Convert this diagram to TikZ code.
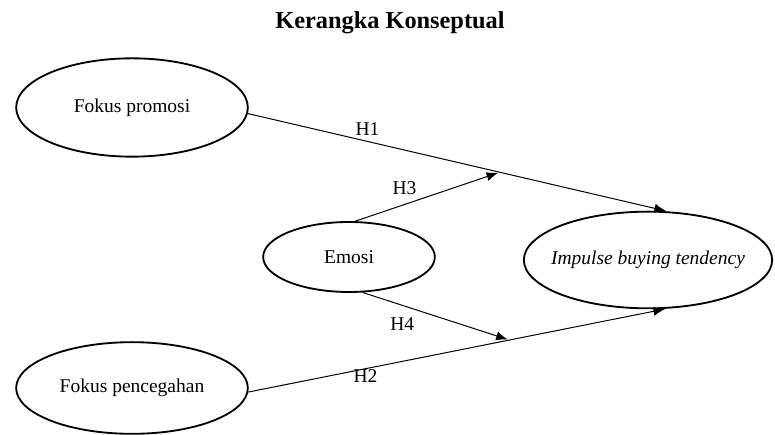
\documentclass[tikz,border=0pt]{standalone}
\usepackage{fontspec}
\setmainfont{Liberation Serif}
\usetikzlibrary{shapes.geometric,arrows.meta,positioning}

\tikzset{
  konsep/.style={ellipse, draw, line width=1.1pt, inner sep=0pt, font=\fontsize{11.7}{14}\selectfont},
  jalur/.style={-{Latex[length=7pt,width=5.5pt]}, line width=0.6pt},
  hlabel/.style={font=\fontsize{11.7}{14}\selectfont}
}

\begin{document}
\begin{tikzpicture}[shorten >=1pt,on grid,auto]
    \useasboundingbox (-79.2pt,64.5pt) rectangle (385.8pt,-196.5pt);
    \node[konsep, minimum width=139pt, minimum height=59pt] (promosi) {Fokus promosi};
    \node[konsep, minimum width=139pt, minimum height=55pt, below=168.3pt of promosi] (pencegahan) {Fokus pencegahan};
    \node[konsep, minimum width=103pt, minimum height=42pt, below right=89.7pt and 130.2pt of promosi] (emosi) {Emosi};
    \node[konsep, inner xsep=-6pt, minimum width=149pt, minimum height=58pt, below right=1.8pt and 179.4pt of emosi] (impulse) {\itshape Impulse buying tendency};
    \node[font=\bfseries\fontsize{14.6}{17}\selectfont, above right=51pt and 154.8pt of promosi] (judul) {Kerangka Konseptual};
    % jalur langsung
    \draw[jalur] (promosi.-3) -- node[hlabel, pos=0.285, above] {H1} coordinate[pos=0.6] (m1) (impulse.68);
    \draw[jalur] (pencegahan.-2) -- node[hlabel, pos=0.28, below=-3pt] {H2} coordinate[pos=0.624] (m2) (impulse.-69);
    % jalur emosi
    \draw[jalur] (emosi.80) -- node[hlabel, pos=0.34, above=2pt] {H3} (m1);
    \draw[jalur] (emosi.-69) -- node[hlabel, pos=0.27, below=3.6pt] {H4} (m2);
\end{tikzpicture}
\end{document}
